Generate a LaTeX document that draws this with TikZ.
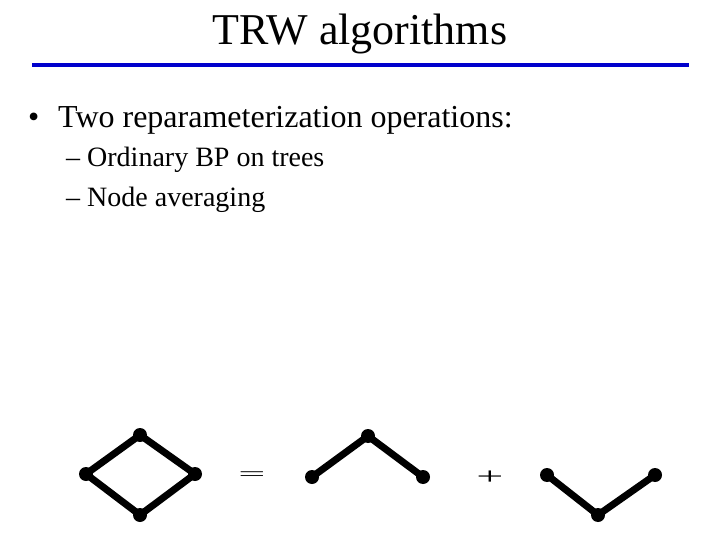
\documentclass[tikz,border=0pt]{standalone}
\usepackage{fontspec}
\setmainfont{Liberation Serif}
\usetikzlibrary{positioning}

\begin{document}
\begin{tikzpicture}[x=1pt, y=-1pt,
  vtx/.style={circle, fill=black, inner sep=0pt, minimum size=14pt},
  edge/.style={line width=7pt},
  txt/.style={anchor=base west, inner sep=0pt},
  op/.style={inner sep=0pt, font=\fontsize{48}{50}\selectfont}]
  \useasboundingbox (0,0) rectangle (720,540);
  % title and rule
  \node[anchor=base, inner sep=0pt, font=\fontsize{44}{48}\selectfont] (title) at (360,45) {TRW algorithms};
  \coordinate (rl) at (32,65);
  \coordinate (rr) at (689,65);
  \draw[line width=4pt, color={rgb,255:red,0;green,0;blue,204}] (rl) -- (rr);
  % bullets
  \node[txt, font=\fontsize{32}{36}\selectfont] (b1) at (28,128) {•};
  \node[txt, font=\fontsize{32}{36}\selectfont] (t1) at (58,128) {Two reparameterization operations:};
  \node[txt, font=\fontsize{28}{32}\selectfont] (t2) at (66,167) {– Ordinary BP on trees};
  \node[txt, font=\fontsize{28}{32}\selectfont] (t3) at (66,207) {– Node averaging};
  % full graph
  \node[vtx] (a1) at (140,435) {};
  \node[vtx] (a2) at (86,474) {};
  \node[vtx] (a3) at (195,474) {};
  \node[vtx] (a4) at (140,515) {};
  \draw[edge] (a1.center) -- (a2.center) -- (a4.center) -- (a3.center) -- cycle;
  \node[op] (eq) at (252,476) {\scalebox{1}[0.4]{=}};
  % upper tree
  \node[vtx] (u1) at (312,477) {};
  \node[vtx] (u2) at (368,436) {};
  \node[vtx] (u3) at (423,477) {};
  \draw[edge] (u1.center) -- (u2.center) -- (u3.center);
  \node[op] (plus) at (490,478) {\scalebox{1}[0.5]{+}};
  % lower tree
  \node[vtx] (l1) at (547,475) {};
  \node[vtx] (l2) at (598,515) {};
  \node[vtx] (l3) at (655,475) {};
  \draw[edge] (l1.center) -- (l2.center) -- (l3.center);
\end{tikzpicture}
\end{document}
